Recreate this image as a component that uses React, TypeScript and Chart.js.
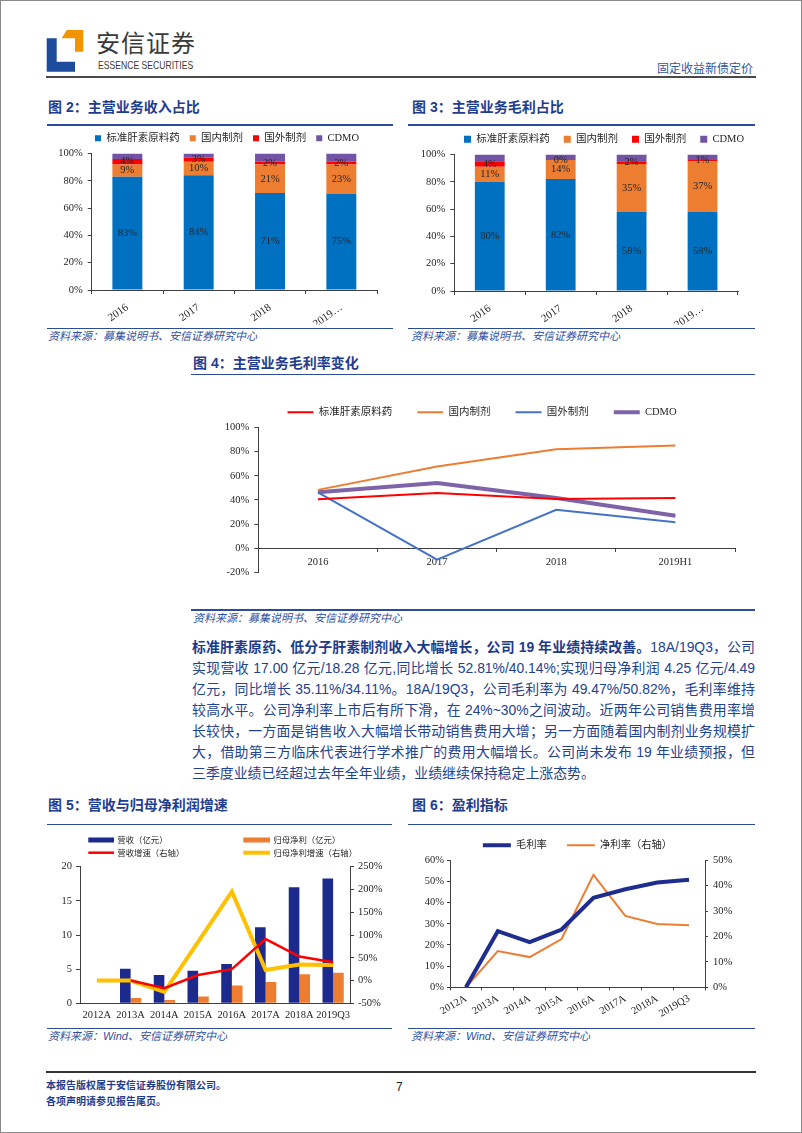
import React, { useEffect, useRef } from 'react';
import { Chart, registerables } from 'chart.js';

Chart.register(...registerables);

// ===================== DATA =====================
const shareYears = ['2016', '2017', '2018', '2019…'];
const shareSeries = ['标准肝素原料药', '国内制剂', '国外制剂', 'CDMO'];
// 图2 主营业务收入占比 (%)
const revShareApi = [83, 84, 71, 75];
const revShareDomestic = [9, 10, 21, 23];
const revShareForeign = [4, 3, 2, 2];
const revShareCdmo = [4, 3, 6, 6.5];
// 图3 主营业务毛利占比 (%)
const gpShareApi = [80, 82, 58, 58];
const gpShareDomestic = [11, 14, 35, 37];
const gpShareForeign = [4, 0, 2, 1];
const gpShareCdmo = [5, 4, 5, 4];

// 图4 主营业务毛利率变化 (%)
const marginYears = ['2016', '2017', '2018', '2019H1'];
const marginApi = [40.5, 45.7, 40.8, 41.6];
const marginDomestic = [48.3, 67.7, 81.9, 85.0];
const marginForeign = [46.3, -9.5, 31.8, 21.4];
const marginCdmo = [46.3, 54.0, 41.6, 26.9];

// 图5 营收与归母净利润增速
const finYears = ['2012A', '2013A', '2014A', '2015A', '2016A', '2017A', '2018A', '2019Q3'];
const finSeries = ['营收（亿元）', '归母净利（亿元）', '营收增速（右轴）', '归母净利增速（右轴）'];
const revenue = [null, 5.07, 4.15, 4.78, 5.76, 11.12, 17.0, 18.28];
const netProfit = [null, 0.78, 0.49, 0.98, 2.59, 3.12, 4.25, 4.49];
const revenueGrowth = [null, 0, -17, 12, 25, 91, 52.81, 40.14];
const profitGrowth = [0, 0, -25, 85, 195, 23, 35.11, 34.11];

// 图6 盈利指标 (%)
const profitSeries = ['毛利率', '净利率（右轴）'];
const grossMargin = [0, 26.5, 21.3, 27.3, 42.3, 46.3, 49.47, 50.82];
const netMargin = [0, 14.3, 11.9, 19.0, 44.3, 28.1, 24.9, 24.4];

// body paragraph
const paraBold = '标准肝素原药、低分子肝素制剂收入大幅增长，公司 19 年业绩持续改善。';
const paraLines = [
  '18A/19Q3，公司',
  '实现营收 17.00 亿元/18.28 亿元,同比增长 52.81%/40.14%;实现归母净利润 4.25 亿元/4.49',
  '亿元，同比增长 35.11%/34.11%。18A/19Q3，公司毛利率为 49.47%/50.82%，毛利率维持',
  '较高水平。公司净利率上市后有所下滑，在 24%~30%之间波动。近两年公司销售费用率增',
  '长较快，一方面是销售收入大幅增长带动销售费用大增；另一方面随着国内制剂业务规模扩',
  '大，借助第三方临床代表进行学术推广的费用大幅增长。公司尚未发布 19 年业绩预报，但',
  '三季度业绩已经超过去年全年业绩，业绩继续保持稳定上涨态势。',
];

// ===================== STYLE =====================
const SERIF = '"Liberation Serif", "Times New Roman", "Noto Sans CJK SC", serif';
const SANS = '"Liberation Sans", Arial, "Noto Sans CJK SC", sans-serif';
const AXIS = '#404040';
const TXT = '#262626';
const TITLE_BLUE = '#1F3D8F';
const RULE_BLUE = '#2B4C9B';
const SRC_BLUE = '#2F50A0';

Chart.defaults.font.family = SERIF;
Chart.defaults.color = TXT;

// ===================== PLUGINS =====================
const legendFix = (height: number, dx: number) => ({
  id: 'legendFix',
  afterInit(chart: any) {
    if (chart.legend) {
      chart.legend.afterFit = function () {
        this.height = height;
      };
    }
  },
  afterLayout(chart: any) {
    if (chart.legend && dx) {
      chart.legend.left += dx;
      chart.legend.right += dx;
    }
  },
});

const barLabels = (items: { ds: number; values: number[] }[]) => ({
  id: 'barLabels',
  afterDatasetsDraw(chart: any) {
    const ctx = chart.ctx;
    ctx.save();
    ctx.font = `10.5px ${SERIF}`;
    ctx.fillStyle = TXT;
    ctx.textAlign = 'center';
    ctx.textBaseline = 'middle';
    for (const it of items) {
      const meta = chart.getDatasetMeta(it.ds);
      meta.data.forEach((el: any, i: number) => {
        ctx.fillText(`${it.values[i]}%`, el.x, (el.y + el.base) / 2);
      });
    }
    ctx.restore();
  },
});

const gridLegend = (items: { ds: number; x: number; y: number; w: number; h: number }[]) => ({
  id: 'gridLegend',
  afterDraw(chart: any) {
    const ctx = chart.ctx;
    ctx.save();
    ctx.font = `8.4px "Noto Sans CJK SC", sans-serif`;
    ctx.textBaseline = 'middle';
    ctx.textAlign = 'left';
    for (const it of items) {
      const d = chart.data.datasets[it.ds];
      ctx.fillStyle = d.type === 'line' ? d.borderColor : d.backgroundColor;
      ctx.fillRect(it.x, it.y - it.h / 2, it.w, it.h);
      ctx.fillStyle = TXT;
      ctx.fillText(d.label, it.x + it.w + 3.3, it.y);
    }
    ctx.restore();
  },
});

const axisGrid = (tl: number) => ({
  display: true,
  drawOnChartArea: false,
  drawTicks: tl > 0,
  tickLength: tl,
  color: AXIS,
  lineWidth: 1,
});

const norm = (series: number[][]) => {
  const tot = series[0].map((_, i) => series.reduce((s, a) => s + a[i], 0));
  return series.map((a) => a.map((v, i) => (v / tot[i]) * 100));
};

// ===================== CHART CONFIGS =====================
const SHARE_COLORS = ['#0070C0', '#ED7D31', '#FF0000', '#7353A3'];

function shareConfig(raw: number[][], o: { legendH: number; dx: number; pad: number; box: number; yW: number; xH: number; padR: number }) {
  const normed = norm(raw);
  return {
    type: 'bar',
    data: {
      labels: shareYears,
      datasets: normed.map((d, i) => ({
        label: shareSeries[i],
        data: d,
        backgroundColor: SHARE_COLORS[i],
        borderWidth: 0,
      })),
    },
    options: {
      responsive: false,
      animation: false,
      layout: { padding: { left: 0, right: o.padR, top: 0, bottom: 0 } },
      datasets: { bar: { barPercentage: 0.42, categoryPercentage: 1 } },
      plugins: {
        tooltip: { enabled: false },
        legend: {
          position: 'top',
          labels: { boxWidth: o.box, boxHeight: o.box, padding: o.pad, font: { size: 10.5 }, color: TXT },
        },
      },
      scales: {
        x: {
          stacked: true,
          grid: axisGrid(4),
          border: { color: AXIS },
          ticks: { autoSkip: false, minRotation: 35, maxRotation: 35, padding: 7, font: { size: 11 }, color: TXT },
          afterFit: (s: any) => { s.height = o.xH; },
        },
        y: {
          stacked: true,
          min: 0,
          max: 100,
          grid: axisGrid(4),
          border: { color: AXIS },
          ticks: { stepSize: 20, padding: 5, font: { size: 10.5 }, color: TXT, callback: (v: any) => `${v}%` },
          afterFit: (s: any) => { s.width = o.yW; },
        },
      },
    },
    plugins: [
      legendFix(o.legendH, o.dx),
      barLabels([
        { ds: 0, values: raw[0] },
        { ds: 1, values: raw[1] },
        { ds: 2, values: raw[2] },
      ]),
    ],
  };
}

const makeChart2 = () =>
  shareConfig([revShareApi, revShareDomestic, revShareForeign, revShareCdmo], {
    legendH: 31, dx: 15, pad: 10, box: 6, yW: 44.7, xH: 35, padR: 15,
  });

const makeChart3 = () =>
  shareConfig([gpShareApi, gpShareDomestic, gpShareForeign, gpShareCdmo], {
    legendH: 32.3, dx: 30, pad: 14, box: 7, yW: 44.3, xH: 34, padR: 19,
  });

const makeChart4 = () => {
  const series = [marginApi, marginDomestic, marginForeign, marginCdmo];
  const colors = ['#FF0000', '#ED7D31', '#4472C4', '#7F63A8'];
  const widths = [2, 2, 2, 4];
  return {
    type: 'line',
    data: {
      labels: marginYears,
      datasets: series.map((d, i) => ({
        label: shareSeries[i],
        data: d,
        borderColor: colors[i],
        backgroundColor: colors[i],
        borderWidth: widths[i],
        pointRadius: 0,
        tension: 0,
        fill: false,
      })),
    },
    options: {
      responsive: false,
      animation: false,
      layout: { padding: { left: 0, right: 20, top: 0, bottom: 17.7 } },
      plugins: {
        tooltip: { enabled: false },
        legend: {
          position: 'top',
          labels: {
            usePointStyle: true,
            pointStyle: 'line',
            pointStyleWidth: 26,
            padding: 25,
            font: { size: 10.5 },
            color: TXT,
          },
        },
      },
      scales: {
        x: {
          type: 'category',
          position: { y: 0 },
          offset: true,
          grid: { ...axisGrid(3), offset: true },
          border: { color: AXIS },
          ticks: { autoSkip: false, minRotation: 0, maxRotation: 0, padding: 5, font: { size: 10.5 }, color: TXT },
        },
        y: {
          min: -20,
          max: 100,
          grid: axisGrid(4),
          border: { color: AXIS },
          ticks: { stepSize: 20, padding: 5, font: { size: 10.5 }, color: TXT, callback: (v: any) => `${v}%` },
          afterFit: (s: any) => { s.width = 68.3; },
        },
      },
    },
    plugins: [legendFix(52, 19.5)],
  };
};

const makeChart5 = () => ({
  type: 'bar',
  data: {
    labels: finYears,
    datasets: [
      { type: 'bar', label: finSeries[0], data: revenue, backgroundColor: '#1C2A8E', yAxisID: 'y', order: 3, barPercentage: 1, categoryPercentage: 0.63 },
      { type: 'bar', label: finSeries[1], data: netProfit, backgroundColor: '#ED7D31', yAxisID: 'y', order: 4, barPercentage: 1, categoryPercentage: 0.63 },
      { type: 'line', label: finSeries[2], data: revenueGrowth, borderColor: '#FF0000', backgroundColor: '#FF0000', borderWidth: 2.5, pointRadius: 0, tension: 0, yAxisID: 'y1', order: 1 },
      { type: 'line', label: finSeries[3], data: profitGrowth, borderColor: '#FFC000', backgroundColor: '#FFC000', borderWidth: 4, pointRadius: 0, tension: 0, yAxisID: 'y1', order: 2 },
    ],
  },
  options: {
    responsive: false,
    animation: false,
    layout: { padding: { left: 0, right: 0, top: 34.7, bottom: 0 } },
    plugins: { tooltip: { enabled: false }, legend: { display: false } },
    scales: {
      x: {
        offset: true,
        grid: { display: false, drawTicks: false },
        border: { color: AXIS },
        ticks: { autoSkip: false, minRotation: 0, maxRotation: 0, padding: 6, font: { size: 10.5 }, color: TXT },
        afterFit: (s: any) => { s.height = 21.7; },
      },
      y: {
        position: 'left',
        min: 0,
        max: 20,
        grid: axisGrid(4),
        border: { color: AXIS },
        ticks: { stepSize: 5, padding: 4, font: { size: 10.5 }, color: TXT },
        afterFit: (s: any) => { s.width = 33; },
      },
      y1: {
        position: 'right',
        min: -50,
        max: 250,
        grid: axisGrid(4),
        border: { color: AXIS },
        ticks: { stepSize: 50, padding: 4, font: { size: 10.5 }, color: TXT, callback: (v: any) => `${v}%` },
        afterFit: (s: any) => { s.width = 45; },
      },
    },
  },
  plugins: [
    gridLegend([
      { ds: 0, x: 41.3, y: 8, w: 25.7, h: 5 },
      { ds: 1, x: 196.3, y: 8, w: 26.7, h: 5 },
      { ds: 2, x: 41.3, y: 20.7, w: 25.7, h: 2.5 },
      { ds: 3, x: 196.3, y: 20.7, w: 26.7, h: 4 },
    ]),
  ],
});

const makeChart6 = () => ({
  type: 'line',
  data: {
    labels: finYears,
    datasets: [
      { label: profitSeries[0], data: grossMargin, borderColor: '#1F2D8F', backgroundColor: '#1F2D8F', borderWidth: 4, pointRadius: 0, tension: 0, yAxisID: 'y' },
      { label: profitSeries[1], data: netMargin, borderColor: '#ED7D31', backgroundColor: '#ED7D31', borderWidth: 2, pointRadius: 0, tension: 0, yAxisID: 'y1' },
    ],
  },
  options: {
    responsive: false,
    animation: false,
    layout: { padding: 0 },
    plugins: {
      tooltip: { enabled: false },
      legend: {
        position: 'top',
        labels: { usePointStyle: true, pointStyle: 'line', pointStyleWidth: 28, padding: 20, font: { size: 10.3 }, color: TXT },
      },
    },
    scales: {
      x: {
        offset: true,
        grid: { ...axisGrid(3), offset: true },
        border: { color: AXIS },
        ticks: { autoSkip: false, minRotation: 30, maxRotation: 30, padding: 2, font: { size: 10.5 }, color: TXT },
        afterFit: (s: any) => { s.height = 34.7; },
      },
      y: {
        position: 'left',
        min: 0,
        max: 60,
        grid: axisGrid(3),
        border: { color: AXIS },
        ticks: { stepSize: 10, padding: 3, font: { size: 10.5 }, color: TXT, callback: (v: any) => `${v}%` },
        afterFit: (s: any) => { s.width = 40; },
      },
      y1: {
        position: 'right',
        min: 0,
        max: 50,
        grid: axisGrid(3),
        border: { color: AXIS },
        ticks: { stepSize: 10, padding: 5, font: { size: 10.5 }, color: TXT, callback: (v: any) => `${v}%` },
        afterFit: (s: any) => { s.width = 52; },
      },
    },
  },
  plugins: [legendFix(34, -6)],
});

// ===================== COMPONENTS =====================
type Box = { left: number; top: number; width: number; height: number };

function ChartCanvas({ box, make }: { box: Box; make: () => any }) {
  const ref = useRef<HTMLCanvasElement>(null);
  useEffect(() => {
    const chart = new Chart(ref.current as HTMLCanvasElement, make());
    return () => chart.destroy();
  }, []);
  return (
    <canvas
      ref={ref}
      width={box.width}
      height={box.height}
      style={{ position: 'absolute', left: box.left, top: box.top, width: box.width, height: box.height }}
    />
  );
}

function Txt({ x, cy, size, style, children }: any) {
  const h = Math.round(size * 1.5);
  return (
    <div
      style={{
        position: 'absolute',
        left: x,
        top: cy - h / 2,
        height: h,
        lineHeight: `${h}px`,
        fontSize: size,
        whiteSpace: 'nowrap',
        ...style,
      }}
    >
      {children}
    </div>
  );
}

function Rule({ x1, x2, y, w = 1.5, color = RULE_BLUE }: any) {
  return <div style={{ position: 'absolute', left: x1, top: y - w / 2, width: x2 - x1, height: w, background: color }} />;
}

const titleStyle = { fontFamily: SANS, fontWeight: 700, color: TITLE_BLUE };
const srcStyle = { fontFamily: SANS, fontStyle: 'italic', color: SRC_BLUE };
const PARA_TOP = 647;
const PARA_STEP = 21;

export default function App() {
  return (
    <div
      style={{
        position: 'absolute',
        left: 0,
        top: 0,
        width: 802,
        height: 1133,
        background: '#fff',
        overflow: 'hidden',
        fontFamily: SANS,
      }}
    >
      <div style={{ position: 'absolute', left: 0, top: 0, width: 802, height: 1133, border: '1px solid #8a8a8a', boxSizing: 'border-box' }} />

      {/* header */}
      <svg style={{ position: 'absolute', left: 0, top: 0 }} width={100} height={90}>
        <polygon points="46.7,38.3 56.7,38.3 56.7,61.7 75,61.7 75,71.7 46.7,71.7" fill="#1E4C9C" />
        <polygon points="66.7,30 83.3,30 83.3,51.7 75,51.7 75,38.3 61.7,38.3" fill="#F29400" />
      </svg>
      <Txt x={96} cy={41.7} size={24} style={{ fontFamily: '"Noto Sans CJK SC", sans-serif', color: '#3a3a3a', letterSpacing: 1 }}>
        安信证券
      </Txt>
      <Txt
        x={98}
        cy={64.5}
        size={10.5}
        style={{ fontFamily: '"Liberation Sans", Arial, sans-serif', color: '#3a3a3a', transform: 'scaleX(0.82)', transformOrigin: 'left center' }}
      >
        ESSENCE SECURITIES
      </Txt>
      <Txt x={657} cy={67.7} size={12} style={{ fontFamily: '"Noto Sans CJK SC", sans-serif', color: '#3355A0' }}>
        固定收益新债定价
      </Txt>
      <Rule x1={46} x2={756} y={76.8} w={2} color="#4a4a4a" />

      {/* figure 2 & 3 */}
      <Txt x={48} cy={107} size={14} style={titleStyle}>图 2：主营业务收入占比</Txt>
      <Txt x={412} cy={107} size={14} style={titleStyle}>图 3：主营业务毛利占比</Txt>
      <Rule x1={47} x2={393} y={125} />
      <Rule x1={408} x2={755} y={125} />
      <ChartCanvas box={{ left: 47, top: 123, width: 345, height: 202 }} make={makeChart2} />
      <ChartCanvas box={{ left: 410, top: 120, width: 347, height: 205 }} make={makeChart3} />
      <Rule x1={47} x2={393} y={328.5} />
      <Rule x1={408} x2={755} y={328.5} />
      <Txt x={48} cy={336.7} size={11} style={srcStyle}>资料来源：募集说明书、安信证券研究中心</Txt>
      <Txt x={411} cy={336.3} size={11} style={srcStyle}>资料来源：募集说明书、安信证券研究中心</Txt>

      {/* figure 4 */}
      <Txt x={193} cy={363.5} size={14} style={titleStyle}>图 4：主营业务毛利率变化</Txt>
      <Rule x1={191} x2={755} y={374.5} />
      <ChartCanvas box={{ left: 190, top: 382, width: 565, height: 208 }} make={makeChart4} />
      <Rule x1={191} x2={755} y={610} />
      <Txt x={193} cy={618.3} size={11} style={srcStyle}>资料来源：募集说明书、安信证券研究中心</Txt>

      {/* paragraph */}
      {paraLines.map((line, i) => (
        <div
          key={i}
          style={{
            position: 'absolute',
            left: 192,
            top: PARA_TOP + i * PARA_STEP - 10,
            width: 563,
            height: 20,
            lineHeight: '20px',
            fontSize: 13.9,
            fontFamily: SANS,
            color: '#23428F',
            whiteSpace: 'nowrap',
            textAlign: 'justify',
            textAlignLast: i === paraLines.length - 1 ? 'left' : 'justify',
          }}
        >
          {i === 0 ? <b style={{ color: '#1B3A8A' }}>{paraBold}</b> : null}
          {line}
        </div>
      ))}

      {/* figure 5 & 6 */}
      <Txt x={48} cy={805} size={14} style={titleStyle}>图 5：营收与归母净利润增速</Txt>
      <Txt x={412} cy={805} size={14} style={titleStyle}>图 6：盈利指标</Txt>
      <Rule x1={47} x2={392} y={824.3} />
      <Rule x1={408} x2={755} y={824.3} />
      <ChartCanvas box={{ left: 47, top: 832, width: 348, height: 193 }} make={makeChart5} />
      <ChartCanvas box={{ left: 410, top: 820, width: 347, height: 202 }} make={makeChart6} />
      <Rule x1={47} x2={392} y={1028.3} />
      <Rule x1={408} x2={755} y={1028.3} />
      <Txt x={48} cy={1036.7} size={11} style={srcStyle}>资料来源：Wind、安信证券研究中心</Txt>
      <Txt x={411} cy={1036.3} size={11} style={srcStyle}>资料来源：Wind、安信证券研究中心</Txt>

      {/* footer */}
      <Rule x1={46} x2={756} y={1072} w={1.5} color="#333" />
      <Txt x={46} cy={1084.3} size={10} style={{ fontFamily: '"Noto Sans CJK SC", sans-serif', fontWeight: 700, color: TITLE_BLUE }}>
        本报告版权属于安信证券股份有限公司。
      </Txt>
      <Txt x={46} cy={1100.7} size={10} style={{ fontFamily: '"Noto Sans CJK SC", sans-serif', fontWeight: 700, color: TITLE_BLUE }}>
        各项声明请参见报告尾页。
      </Txt>
      <Txt x={396} cy={1086.7} size={12} style={{ fontFamily: SANS, color: '#222' }}>7</Txt>
    </div>
  );
}
